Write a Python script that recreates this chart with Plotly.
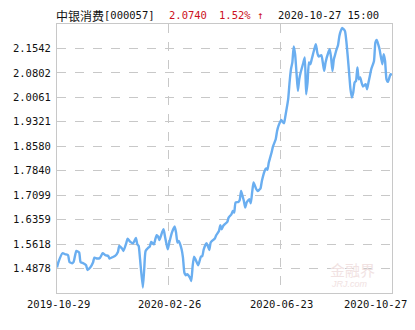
import plotly.graph_objects as go

# trading-day index (0 = 2019-10-29, 242 = 2020-10-27) and unit NAV
day = [0, 1, 4, 6, 8, 9, 11, 12, 14, 16, 17, 19, 21, 22, 24, 26, 27, 29, 31, 33,
       35, 37, 38, 40, 42, 44, 45, 47, 48, 50, 51, 53, 55, 57, 58, 59, 60, 62, 63, 64,
       66, 67, 68, 70, 71, 72, 73, 74, 76, 77, 78, 79, 80, 81, 83, 85, 86, 87, 88, 90,
       91, 92, 93, 94, 96, 97, 98, 99, 100, 102, 103, 104, 105, 106, 108, 109, 110, 111, 112, 114,
       115, 117, 118, 119, 120, 122, 123, 124, 126, 127, 128, 129, 131, 132, 133, 134, 135, 136, 137, 139,
       140, 141, 142, 144, 145, 146, 147, 148, 150, 151, 152, 153, 154, 155, 156, 158, 159, 160, 162, 163,
       164, 165, 167, 168, 169, 170, 171, 172, 173, 174, 175, 176, 178, 179, 180, 181, 182, 183, 184, 186,
       187, 188, 189, 191, 192, 193, 194, 196, 197, 198, 199, 200, 201, 202, 203, 204, 205, 206, 208, 209,
       210, 211, 212, 213, 214, 215, 216, 217, 218, 219, 220, 221, 223, 224, 225, 226, 227, 229, 230, 231,
       232, 233, 235, 236, 237, 238, 239, 241, 242]
nav = [1.4908, 1.5069, 1.5341, 1.5311, 1.5281, 1.5078, 1.5039, 1.5078, 1.5411, 1.5363,
       1.5078, 1.5039, 1.4978, 1.4836, 1.4908, 1.5060, 1.5211, 1.5181, 1.5199, 1.5341,
       1.5281, 1.5260, 1.5181, 1.5220, 1.5260, 1.5381, 1.5562, 1.5484, 1.5411, 1.5644,
       1.5786, 1.5684, 1.5644, 1.5805, 1.5614, 1.5562, 1.5160, 1.4303, 1.4857, 1.5411,
       1.5514, 1.5544, 1.5684, 1.5614, 1.5765, 1.5886, 1.5847, 1.5744, 1.5986, 1.6068,
       1.5847, 1.5644, 1.5462, 1.5644, 1.5968, 1.6150, 1.5968, 1.5665, 1.5714, 1.5462,
       1.5211, 1.4757, 1.4675, 1.4705, 1.4605, 1.4503, 1.4957, 1.5241, 1.5160, 1.4978,
       1.5108, 1.5241, 1.5260, 1.5462, 1.5644, 1.5562, 1.5441, 1.5665, 1.5714, 1.5786,
       1.5886, 1.6017, 1.6189, 1.6068, 1.6168, 1.6250, 1.6289, 1.6422, 1.6522, 1.6622,
       1.6574, 1.6877, 1.6895, 1.6955, 1.7228, 1.7077, 1.6925, 1.6725, 1.6877, 1.6977,
       1.6855, 1.7198, 1.7482, 1.7279, 1.7228, 1.7258, 1.7301, 1.7531, 1.7834, 1.7906,
       1.7864, 1.8088, 1.8239, 1.8391, 1.8572, 1.8794, 1.9045, 1.9196, 1.9378, 1.9317,
       1.9278, 1.9499, 2.0005, 2.0511, 2.0913, 2.1116, 2.1601, 2.1368, 2.0813, 2.0256,
       2.0610, 2.0813, 2.1116, 2.1268, 2.0156, 2.0511, 2.1116, 2.1065, 2.1216, 2.1540,
       2.1670, 2.1419, 2.1298, 2.1337, 2.1116, 2.0862, 2.1116, 2.1419, 2.1519, 2.1268,
       2.0862, 2.1216, 2.1368, 2.1519, 2.1640, 2.1922, 2.2073, 2.2160, 2.2073, 2.1770,
       2.1316, 2.0813, 2.0308, 2.0056, 2.0208, 2.0511, 2.0559, 2.0965, 2.0610, 2.0662,
       2.0511, 2.0389, 2.0459, 2.0308, 2.0511, 2.0710, 2.0913, 2.1165, 2.1722, 2.1801,
       2.1670, 2.1519, 2.1065, 2.1368, 2.1165, 2.0610, 2.0529, 2.0762, 2.0740]

y_ticks = [1.4878, 1.5618, 1.6359, 1.7099, 1.7840, 1.8580, 1.9321, 2.0061, 2.0802, 2.1542]
y_range = [1.4138, 2.2282]
x_labels = ["2019-10-29", "2020-02-26", "2020-06-23", "2020-10-27"]
x_label_days = [0, 80.67, 161.33, 242]
fund_name = "中银消费"
fund_code = "[000057]"
last_nav = "2.0740"
last_change = "1.52% ↑"
timestamp = "2020-10-27 15:00"

LINE = "#6aaef0"
GRID = "#c8c8c8"
MONO = "DejaVu Sans Mono"

# plot-area geometry in pixels (for placing paper-referenced texts)
L, R, T, B = 57, 392, 24, 293


def px_x(px):
    return (px - L) / (R - L)


def px_y(py):
    return (B - py) / (B - T)


fig = go.Figure()
fig.add_trace(go.Scatter(x=day, y=nav, mode="lines",
                         line=dict(color=LINE, width=2.4, shape="spline", smoothing=0.5),
                         hoverinfo="skip", showlegend=False))

fig.update_layout(
    width=415, height=330,
    margin=dict(l=L, r=415 - R, t=T, b=330 - B),
    paper_bgcolor="white", plot_bgcolor="white",
    showlegend=False,
    xaxis=dict(range=[0, 242], tickvals=x_label_days[1:3], showticklabels=False,
               showgrid=True, gridcolor=GRID, griddash="dash", gridwidth=1,
               zeroline=False, showline=True, mirror=True, linecolor=GRID, linewidth=1,
               ticks=""),
    yaxis=dict(range=y_range, tickvals=y_ticks, ticktext=[f"{v:.4f}" for v in y_ticks],
               showgrid=True, gridcolor=GRID, griddash="dash", gridwidth=1,
               zeroline=False, showline=True, mirror=True, linecolor=GRID, linewidth=1,
               ticks="", tickfont=dict(family=MONO, size=10.5, color="#111111"),
               ticklabelstandoff=3),
)

annotations = []
# x tick labels
for i, (lab, d) in enumerate(zip(x_labels, x_label_days)):
    last = i == len(x_labels) - 1
    annotations.append(dict(x=d, y=0, xref="x", yref="paper", text=lab, showarrow=False,
                            xanchor="right" if last else "center", yanchor="top",
                            xshift=17 if last else 1, yshift=-3,
                            font=dict(family=MONO, size=10.5, color="#111111")))
# title pieces
title_parts = [
    (fund_name, 55, "#111111", "Noto Sans CJK SC", 12),
    (fund_code, 103, "#111111", MONO, 10.5),
    (last_nav, 168, "#cc1122", MONO, 10.5),
    (last_change, 218, "#cc1122", MONO, 10.5),
    (timestamp, 277, "#111111", MONO, 10.5),
]
for txt, px, col, fam, sz in title_parts:
    annotations.append(dict(x=px_x(px), y=px_y(15), xref="paper", yref="paper",
                            text=txt, showarrow=False, xanchor="left", yanchor="middle",
                            borderpad=0,
                            font=dict(family=fam, size=sz, color=col)))
# watermark
annotations.append(dict(x=px_x(352), y=px_y(269), xref="paper", yref="paper",
                        text="金融界", showarrow=False, xanchor="center", yanchor="middle",
                        font=dict(family="Noto Sans CJK SC", size=15, color="#f1e2e2")))
annotations.append(dict(x=px_x(349), y=px_y(284), xref="paper", yref="paper",
                        text="<i>JRJ.com</i>", showarrow=False, xanchor="center", yanchor="middle",
                        font=dict(family="Liberation Sans", size=9, color="#f1e2e2")))
fig.update_layout(annotations=annotations)

fig.write_html("out.html")
